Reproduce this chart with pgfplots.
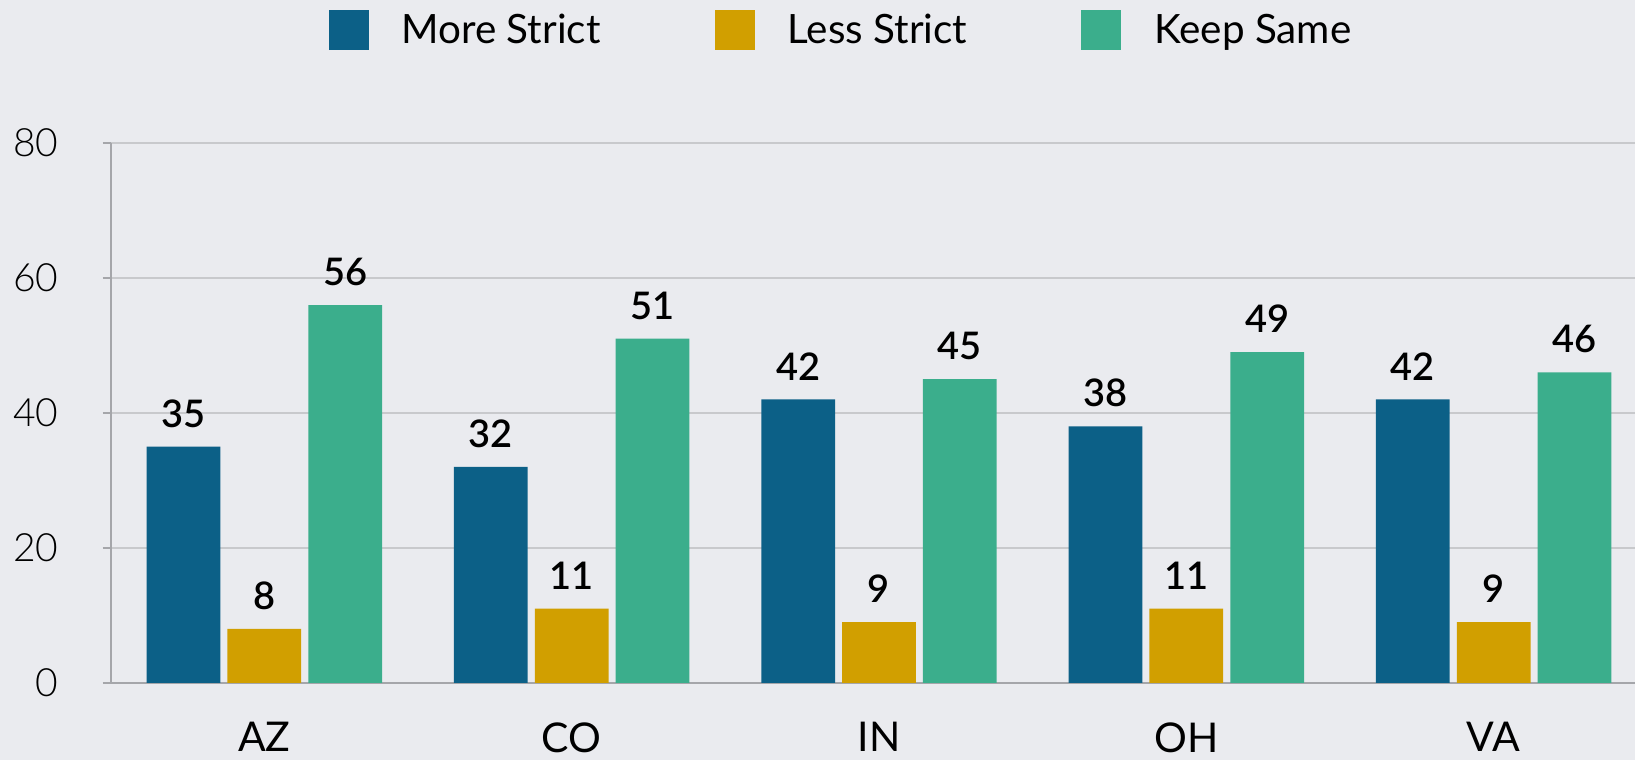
\documentclass[border=0pt]{standalone}
\usepackage{fontspec}
\setmainfont{Lato}
\newfontfamily\lightfont{Lato Light}
\newfontfamily\semifont{Lato Semibold}
\usepackage{pgfplots}
\pgfplotsset{compat=1.18}
\definecolor{bgc}{RGB}{234,235,239}
\definecolor{cblue}{RGB}{12,96,135}
\definecolor{cgold}{RGB}{209,159,0}
\definecolor{cgreen}{RGB}{59,174,140}
\definecolor{gridc}{RGB}{200,201,204}
\definecolor{axc}{RGB}{165,166,170}
\begin{document}
\begin{tikzpicture}
\clip (0,0) rectangle (817.5pt,380pt);
\fill[bgc] (0,0) rectangle (817.5pt,380pt);
\begin{axis}[
  at={(55.35pt,38.5pt)}, anchor=south west,
  scale only axis, width=762.15pt, height=270pt,
  xmin=-0.5, xmax=4.46, ymin=0, ymax=80,
  axis lines=left,
  axis line style={-, axc, line width=1pt},
  ybar, bar width=0.24,
  /pgf/number format/assume math mode=true,
  ymajorgrids, grid style={gridc, line width=1pt},
  ytick={0,20,40,60,80},
  tick align=outside,
  major tick length=4pt, minor tick length=4pt,
  tick style={axc, line width=1pt},
  x tick style={draw=none},
  minor x tick style={axc, line width=1pt},
  xtick={0,1,2,3,4},
  xticklabels={AZ,CO,IN,OH,VA},
  minor xtick={-0.5,0.5,1.5,2.5,3.5},
  yticklabel style={font=\lightfont\fontsize{19.5}{20}\selectfont, anchor=east, inner sep=0pt, xshift=-22pt},
  xticklabel style={font=\fontsize{20.5}{22}\selectfont, anchor=north, inner sep=0pt, yshift=-15.5pt},
  nodes near coords,
  every node near coord/.append style={font=\semifont\fontsize{19}{20}\selectfont, anchor=south, inner sep=0pt, yshift=9.5pt, text=black},
  legend image code/.code={\fill[#1] (0pt,-10pt) rectangle (20pt,10pt);},
  legend columns=3,
  legend style={at={(0.1429,1.2463)}, anchor=north west, draw=none, fill=none,
    inner sep=0pt, outer sep=0pt, font=\fontsize{20.2}{22}\selectfont,
    nodes={inner sep=0pt},
    /tikz/every odd column/.append style={column sep=16.5pt},
    /tikz/every even column/.append style={column sep=57pt}},
  legend cell align=left,
]
\addplot[fill=cblue, draw=none, bar shift=-0.263] coordinates {(0,35)(1,32)(2,42)(3,38)(4,42)};
\addplot[fill=cgold, draw=none, bar shift=0] coordinates {(0,8)(1,11)(2,9)(3,11)(4,9)};
\addplot[fill=cgreen, draw=none, bar shift=0.263] coordinates {(0,56)(1,51)(2,45)(3,49)(4,46)};
\addlegendentry{More Strict}
\addlegendentry{Less Strict\hspace{-10pt}}
\addlegendentry{Keep Same}
\end{axis}
\end{tikzpicture}
\end{document}
